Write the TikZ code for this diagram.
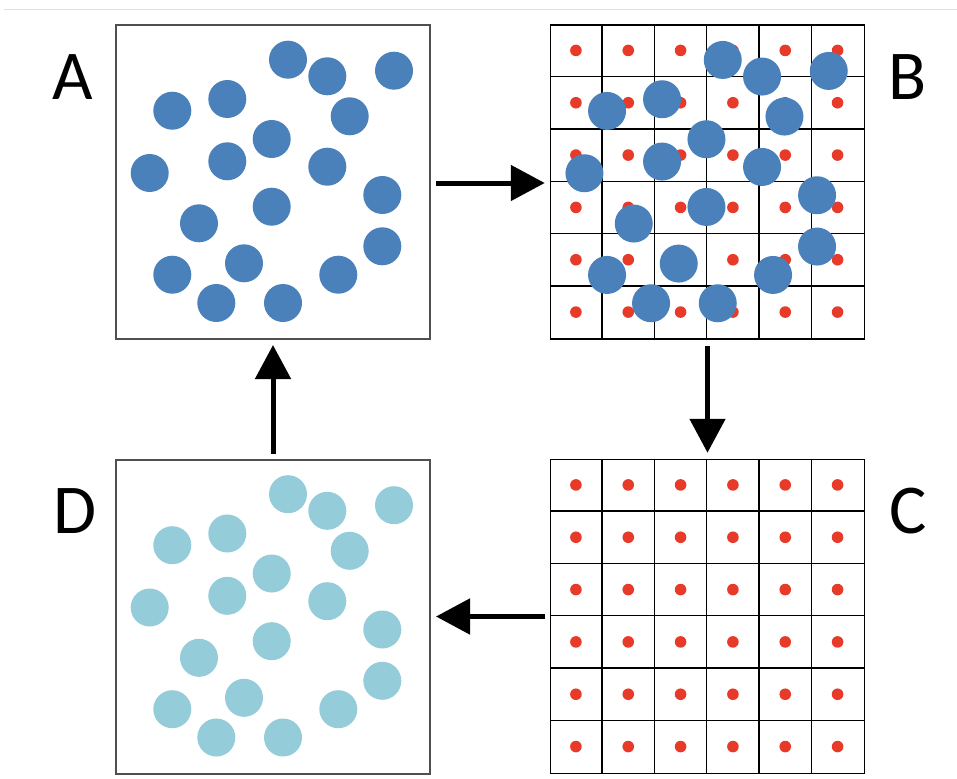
\documentclass[tikz,border=0pt]{standalone}
\usepackage{fontspec}
\setmainfont{Carlito}
\usetikzlibrary{arrows.meta}
\definecolor{dblue}{RGB}{74,129,186}
\definecolor{lblue}{RGB}{148,204,218}
\definecolor{rdot}{RGB}{232,58,40}
\definecolor{boxgray}{RGB}{80,80,80}
\begin{document}
\begin{tikzpicture}[x=1pt,y=-1pt,
  panel/.style={draw=boxgray,line width=2pt,minimum size=314pt,inner sep=0pt,fill=white},
  gridpanel/.style={draw=black,line width=1.5pt,minimum size=314pt,inner sep=0pt,fill=white},
  letter/.style={font=\fontsize{70}{70}\selectfont,inner sep=0pt},
  flow/.style={line width=5pt,-{Triangle[length=34pt,width=35pt]}},
  ball/.style={fill=#1},
  reddot/.style={fill=rdot}]
\useasboundingbox (0,0) rectangle (957,778);
\draw[black!12,line width=1pt] (4,10) -- (957,10);

\node[panel] (A) at (273,182) {};
\node[gridpanel] (B) at (707.5,182) {};
\node[gridpanel] (C) at (707.5,616.5) {};
\node[panel] (D) at (273,616.5) {};

\def\balls{173/35.7, 212.3/52.3, 279/46.7, 57.3/86.7, 112.3/75, 234.7/92.3,
  156.7/115, 34.7/149, 112.3/137.3, 212.3/142.7, 267.3/171, 156.7/182.7,
  84/199.3, 267.3/222.3, 57.3/250.7, 129/239.3, 223.3/250.7, 101.3/279, 168/279}

% grids and red dots in B and C
\foreach \p in {B,C}{
  \begin{scope}[shift={(\p.north west)}]
    \foreach \k in {1,...,5}{
      \draw[black,line width=1.3pt] (\k*52.33,0) -- (\k*52.33,314);
      \draw[black,line width=1.3pt] (0,\k*52.33) -- (314,\k*52.33);
    }
    \foreach \i in {0,...,5}{
      \foreach \j in {0,...,5}{
        \fill[reddot] (26.17+\i*52.33,26.17+\j*52.33) circle (5.8pt);
      }
    }
  \end{scope}
}

% particles
\begin{scope}[shift={(A.north west)}]
  \foreach \x/\y in \balls { \fill[ball=dblue] (\x,\y) circle (19pt); }
\end{scope}
\begin{scope}[shift={(B.north west)}]
  \foreach \x/\y in \balls { \fill[ball=dblue] (\x,\y) circle (19pt); }
\end{scope}
\begin{scope}[shift={(D.north west)}]
  \foreach \x/\y in \balls { \fill[ball=lblue] (\x,\y) circle (19pt); }
\end{scope}

% letters
\node[letter] (la) at (73,77) {A};
\node[letter] (lb) at (908,77.5) {B};
\node[letter] (lc) at (908,511) {C};
\node[letter] (ld) at (75.5,511.5) {D};

% arrows
\draw[flow] ([xshift=5pt,yshift=-1pt]A.east) -- ([xshift=-5pt,yshift=-1pt]B.west);
\draw[flow] ([yshift=-6pt]B.south) -- ([yshift=6pt]C.north);
\draw[flow] ([xshift=-5pt]C.west) -- ([xshift=5pt]D.east);
\draw[flow] ([yshift=5pt]D.north) -- ([yshift=-5pt]A.south);
\end{tikzpicture}
\end{document}
